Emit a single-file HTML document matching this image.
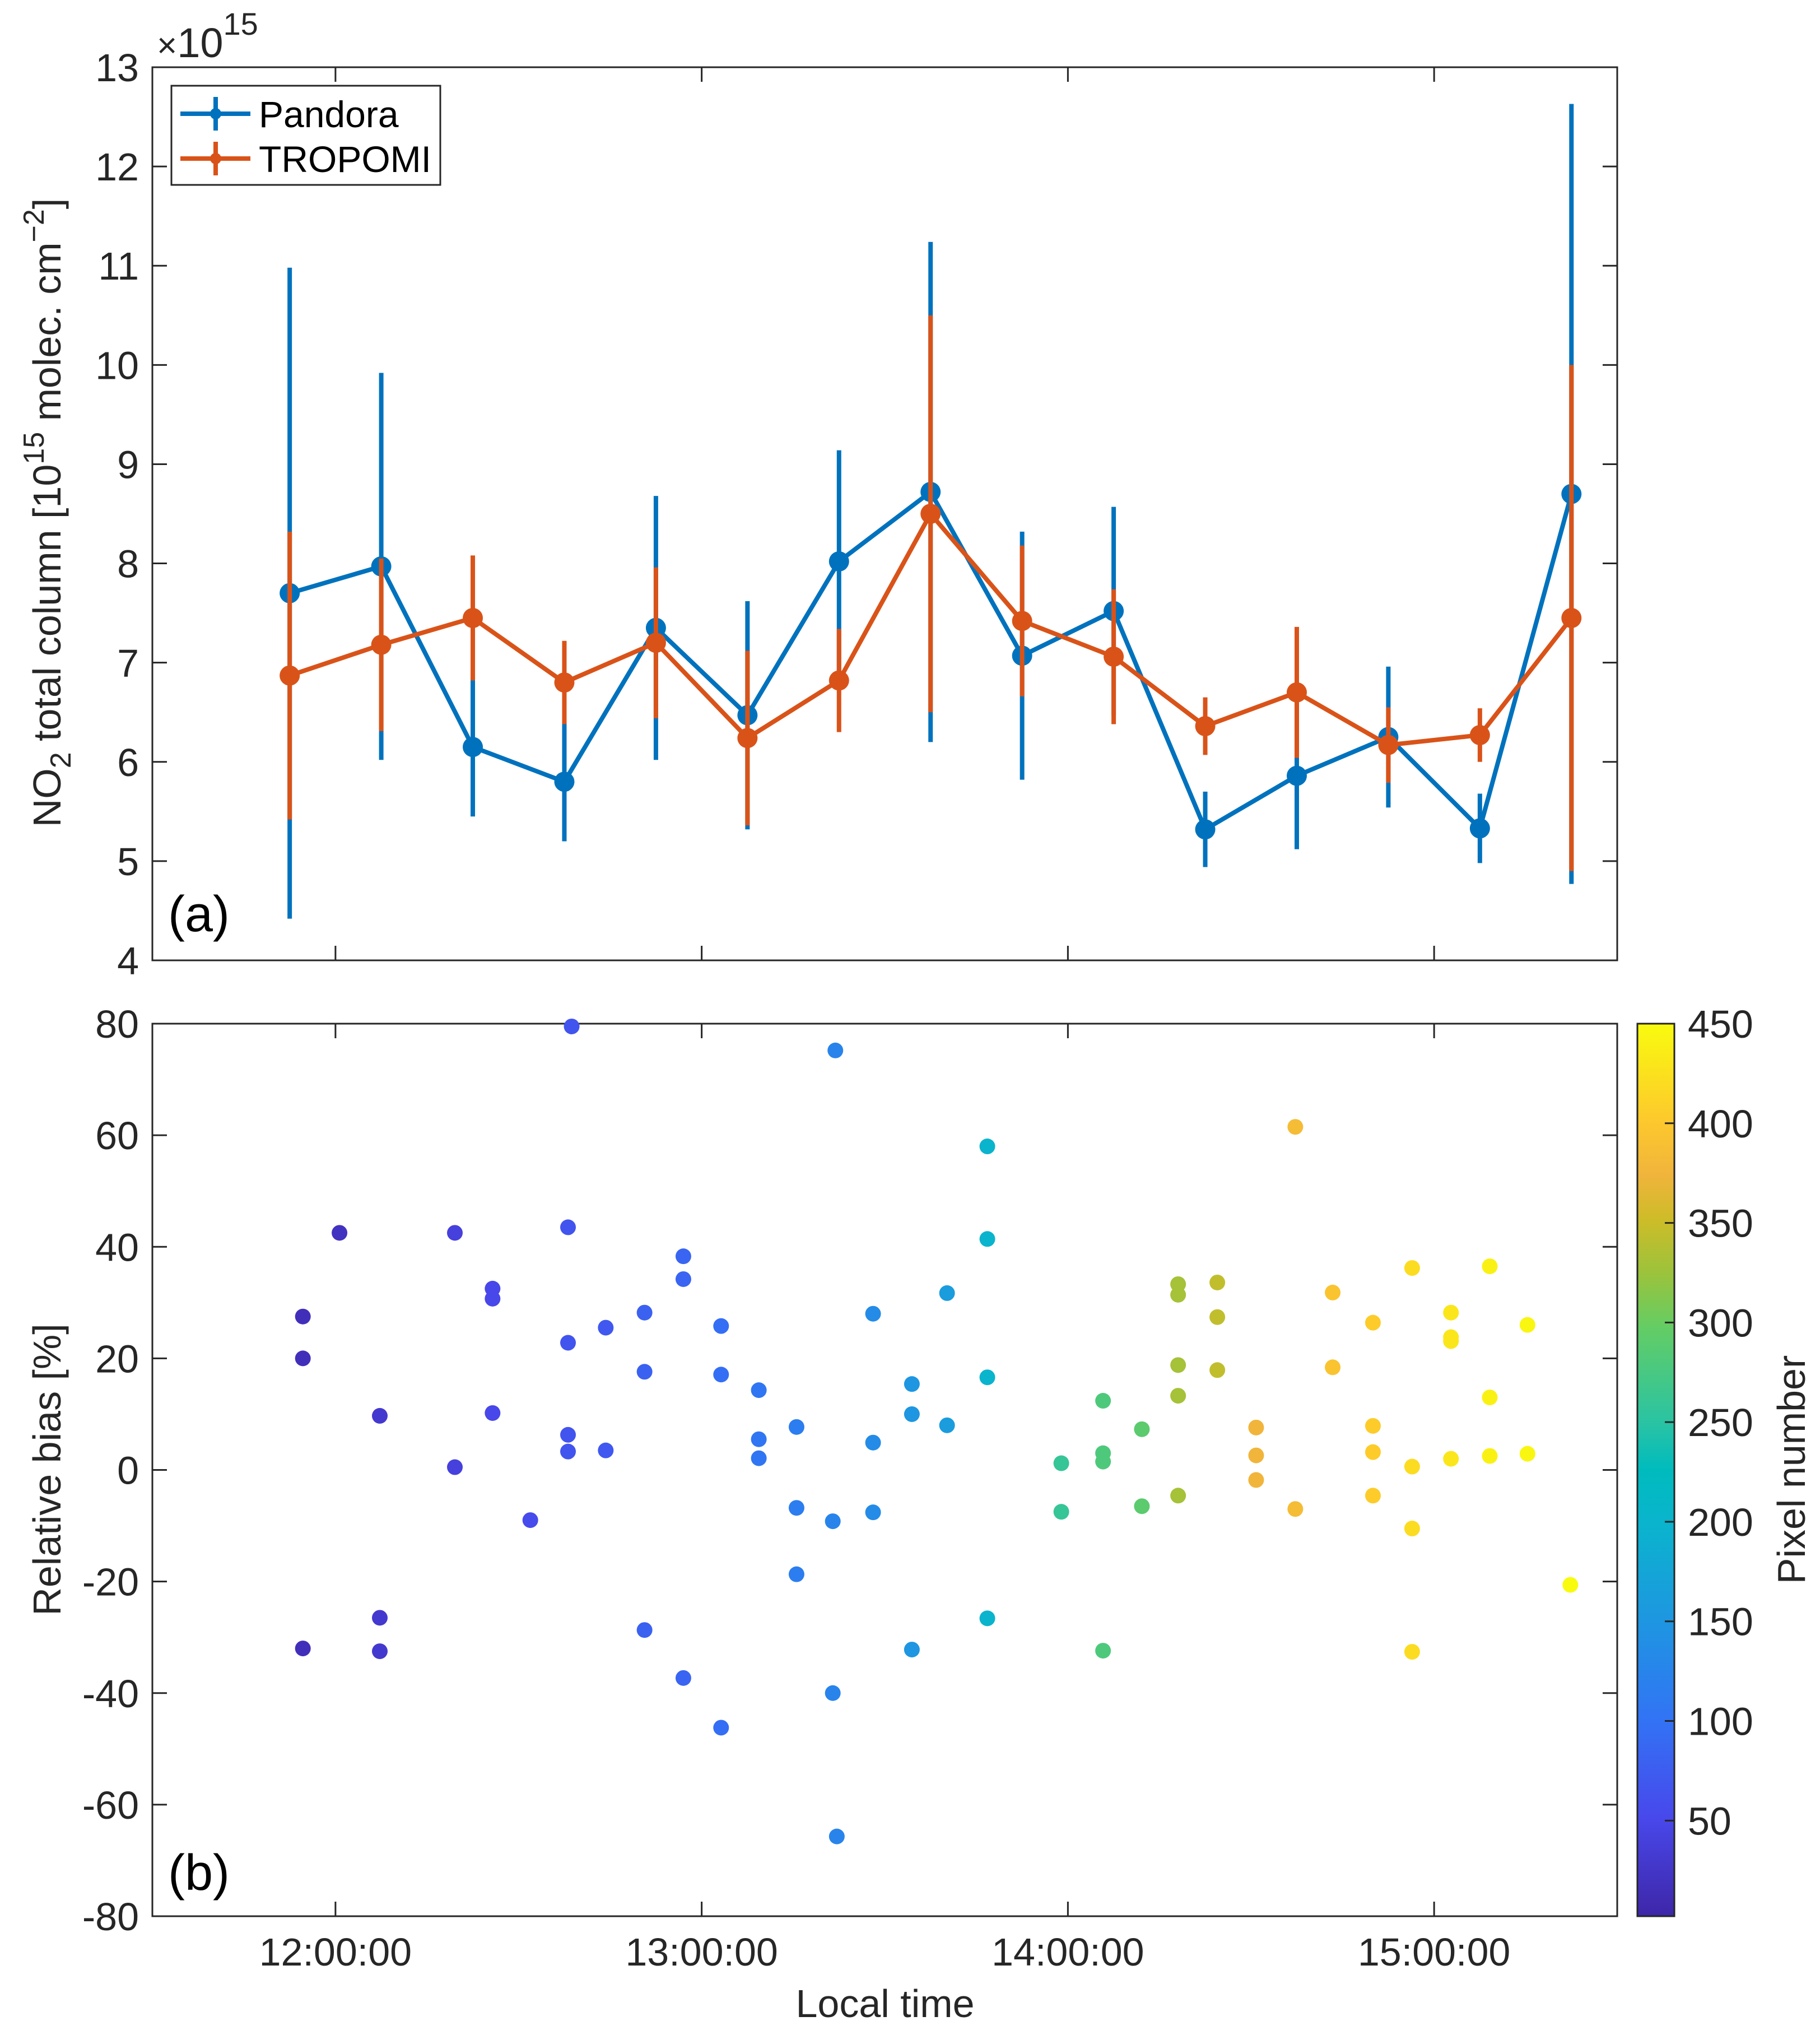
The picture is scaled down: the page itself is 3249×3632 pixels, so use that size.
<!DOCTYPE html>
<html>
<head>
<meta charset="utf-8">
<style>
html,body{margin:0;padding:0;background:#fff;}
svg{display:block;font-family:"Liberation Sans",Arial,sans-serif;}
</style>
</head>
<body>
<svg id="fig" width="3249" height="3632" viewBox="0 0 3249 3632" xmlns="http://www.w3.org/2000/svg">
<defs>
<linearGradient id="parula" x1="0" y1="1" x2="0" y2="0">
<stop offset="0" stop-color="rgb(62,38,168)"/>
<stop offset="0.11" stop-color="rgb(72,72,235)"/>
<stop offset="0.22" stop-color="rgb(50,115,245)"/>
<stop offset="0.33" stop-color="rgb(30,150,225)"/>
<stop offset="0.44" stop-color="rgb(10,180,205)"/>
<stop offset="0.5" stop-color="rgb(0,187,190)"/>
<stop offset="0.55" stop-color="rgb(40,195,165)"/>
<stop offset="0.66" stop-color="rgb(100,205,100)"/>
<stop offset="0.72" stop-color="rgb(155,195,60)"/>
<stop offset="0.78" stop-color="rgb(205,188,40)"/>
<stop offset="0.83" stop-color="rgb(240,180,60)"/>
<stop offset="0.89" stop-color="rgb(253,200,45)"/>
<stop offset="1" stop-color="rgb(249,251,14)"/>
</linearGradient>
</defs>
<g id="panelA"></g>
<g id="panelB"></g>
</svg>
<script>
// ---- Panel (a) data ----
const timesA = [11.875,12.125,12.375,12.625,12.875,13.125,13.375,13.625,13.875,14.125,14.375,14.625,14.875,15.125,15.375];
const pandora = [7.70,7.97,6.15,5.80,7.35,6.47,8.02,8.72,7.07,7.52,5.32,5.86,6.25,5.33,8.70];
const pandoraErr = [3.28,1.95,0.70,0.60,1.33,1.15,1.12,2.52,1.25,1.05,0.38,0.74,0.71,0.35,3.93];
const tropomi = [6.87,7.18,7.45,6.80,7.20,6.24,6.82,8.50,7.42,7.06,6.36,6.70,6.17,6.27,7.45];
const tropomiErr = [1.45,0.87,0.63,0.42,0.76,0.88,0.52,2.00,0.76,0.68,0.29,0.66,0.38,0.27,2.55];
const yTicksA = [4,5,6,7,8,9,10,11,12,13];
const xTicks = [12,13,14,15];
const xTickLabels = ["12:00:00","13:00:00","14:00:00","15:00:00"];
// ---- Panel (b) data ----
const timesB = [11.911,11.911,11.911,12.011,12.121,12.121,12.121,12.326,12.326,12.429,12.429,12.429,12.532,12.635,12.635,12.635,12.635,12.645,12.738,12.738,12.844,12.844,12.844,12.950,12.950,12.950,13.053,13.053,13.053,13.156,13.156,13.156,13.259,13.259,13.259,13.358,13.358,13.365,13.369,13.468,13.468,13.468,13.574,13.574,13.574,13.670,13.670,13.780,13.780,13.780,13.780,13.982,13.982,14.096,14.096,14.096,14.096,14.202,14.202,14.301,14.301,14.301,14.301,14.301,14.408,14.408,14.408,14.514,14.514,14.514,14.621,14.621,14.723,14.723,14.833,14.833,14.833,14.833,14.940,14.940,14.940,14.940,15.046,15.046,15.046,15.046,15.152,15.152,15.152,15.255,15.255,15.372];
const bias = [27.5,20,-32,42.5,9.7,-26.5,-32.5,42.5,0.5,32.5,30.7,10.2,-9,43.5,22.8,6.3,3.3,79.5,25.5,3.5,28.2,17.6,-28.7,38.3,34.2,-37.3,25.8,17.1,-46.2,14.3,5.5,2.1,7.7,-6.8,-18.7,-9.2,-40,75.2,-65.7,28,4.9,-7.6,15.4,10,-32.2,31.7,8,58,41.4,16.6,-26.6,-7.5,1.2,12.4,3,1.5,-32.4,7.3,-6.5,33.3,31.4,18.8,13.3,-4.6,33.6,27.4,17.9,7.6,2.6,-1.8,61.5,-7,31.8,18.4,26.4,7.9,3.2,-4.6,36.2,0.6,-10.5,-32.6,28.2,23.8,23.1,2,36.5,13,2.5,26,2.9,-20.6];
const pixelNum = [15,15,15,20,30,30,30,40,40,50,50,50,55,65,65,65,65,65,70,70,80,80,80,85,85,85,95,95,95,105,105,105,115,115,115,125,125,125,125,135,135,135,150,150,150,160,160,200,200,200,200,260,260,280,280,280,280,290,290,330,330,330,330,330,345,345,345,375,375,375,385,385,395,395,405,405,405,405,420,420,420,420,430,430,430,430,440,440,440,445,445,455];
const yTicksB = [-80,-60,-40,-20,0,20,40,60,80];
const cbTicks = [50,100,150,200,250,300,350,400,450];

const NS = "http://www.w3.org/2000/svg";
function mk(tag, attrs, parent){const e=document.createElementNS(NS,tag);for(const k in attrs)e.setAttribute(k,attrs[k]);parent.appendChild(e);return e;}
const AX = "#262626";
const L=272, R=2887;
const xScale = t => L + (t-11.5)/4*(R-L);
const aT=120, aB=1714;
const yA = v => aB - (v-4)/9*(aB-aT);
const bT=1827, bB=3420;
const yB = v => bB - (v+80)/160*(bB-bT);
const cL=2923, cR=2989, cMin=2, cMax=450;
const yC = v => bB - (v-cMin)/(cMax-cMin)*(bB-bT);

const stops=[[0,62,38,168],[0.11,72,72,235],[0.22,50,115,245],[0.33,30,150,225],[0.44,10,180,205],[0.5,0,187,190],[0.55,40,195,165],[0.66,100,205,100],[0.72,155,195,60],[0.78,205,188,40],[0.83,240,180,60],[0.89,253,200,45],[1,249,251,14]];
function cmap(v){let f=(v-cMin)/(cMax-cMin);f=Math.max(0,Math.min(1,f));for(let i=1;i<stops.length;i++){if(f<=stops[i][0]){const a=stops[i-1],b=stops[i];const u=(f-a[0])/(b[0]-a[0]);return `rgb(${Math.round(a[1]+u*(b[1]-a[1]))},${Math.round(a[2]+u*(b[2]-a[2]))},${Math.round(a[3]+u*(b[3]-a[3]))})`;}}return "rgb(249,251,14)";}

const gTop=document.getElementById('panelA');
const gBot=document.getElementById('panelB');

// ===== Panel A =====
const boxA = mk('rect',{x:L,y:aT,width:R-L,height:aB-aT,fill:'none',stroke:AX,'stroke-width':3},gTop);


yTicksA.forEach(v=>{
  const y=yA(v);
  const t1=mk('line',{x1:L,x2:L+26,y1:y,y2:y,stroke:AX,'stroke-width':3},gTop);
  
  
  const t2=mk('line',{x1:R,x2:R-26,y1:y,y2:y,stroke:AX,'stroke-width':3},gTop);
  
  
  const tx=mk('text',{x:248,y:y+25,'text-anchor':'end','font-size':70,fill:AX},gTop);
  tx.textContent=v;
  
  
});
xTicks.forEach(v=>{
  const x=xScale(v);
  const t1=mk('line',{x1:x,x2:x,y1:aB,y2:aB-26,stroke:AX,'stroke-width':3},gTop);
  
  
  const t2=mk('line',{x1:x,x2:x,y1:aT,y2:aT+26,stroke:AX,'stroke-width':3},gTop);
  
  
});
function series(vals, errs, color, name){
  const g=mk('g',{},gTop);
  
  
  const pts=timesA.map((t,i)=>xScale(t)+','+yA(vals[i])).join(' ');
  const pl=mk('polyline',{points:pts,fill:'none',stroke:color,'stroke-width':8,'stroke-linejoin':'round'},g);
  
  
  timesA.forEach((t,i)=>{
    const x=xScale(t);
    const eb=mk('line',{x1:x,x2:x,y1:yA(vals[i]-errs[i]),y2:yA(vals[i]+errs[i]),stroke:color,'stroke-width':8},g);
    
    
  });
  timesA.forEach((t,i)=>{
    const c=mk('circle',{cx:xScale(t),cy:yA(vals[i]),r:18,fill:color},g);
    
    
  });
}
series(pandora,pandoraErr,'#0072BD','pandora');
series(tropomi,tropomiErr,'#D95319','tropomi');

const lg=mk('g',{},gTop);


const lr=mk('rect',{x:306,y:153,width:480,height:177,fill:'#fff',stroke:AX,'stroke-width':3},lg);


[['Pandora','#0072BD',203],['TROPOMI','#D95319',283]].forEach(([lab,col,y])=>{
  const e=mk('g',{},lg);
  
  
  mk('line',{x1:322,x2:447,y1:y,y2:y,stroke:col,'stroke-width':8},e);
  mk('line',{x1:385,x2:385,y1:y-30,y2:y+30,stroke:col,'stroke-width':8},e);
  mk('circle',{cx:385,cy:y,r:10,fill:col},e);
  const t=mk('text',{x:462,y:y+24,'font-size':66,fill:'#000'},e);
  t.textContent=lab;
});

const mult=mk('text',{x:280,y:102,'font-size':74,fill:AX},gTop);


mult.innerHTML='<tspan font-size="62">×</tspan>10<tspan dy="-40" font-size="56">15</tspan>';

const la=mk('text',{x:300,y:1662,'font-size':90,fill:'#000'},gTop);
la.textContent='(a)';



const yla=mk('text',{x:0,y:0,'font-size':70,fill:AX,'text-anchor':'middle',transform:'translate(108,915) rotate(-90)'},gTop);


yla.innerHTML='NO<tspan dy="18" font-size="52">2</tspan><tspan dy="-18"> total column [10</tspan><tspan dy="-30" font-size="52">15</tspan><tspan dy="30"> molec. cm</tspan><tspan dy="-30" font-size="52">−2</tspan><tspan dy="30">]</tspan>';

// ===== Panel B =====
const boxB=mk('rect',{x:L,y:bT,width:R-L,height:bB-bT,fill:'none',stroke:AX,'stroke-width':3},gBot);


yTicksB.forEach(v=>{
  const y=yB(v);
  const t1=mk('line',{x1:L,x2:L+26,y1:y,y2:y,stroke:AX,'stroke-width':3},gBot);
  
  
  const t2=mk('line',{x1:R,x2:R-26,y1:y,y2:y,stroke:AX,'stroke-width':3},gBot);
  
  
  const tx=mk('text',{x:248,y:y+25,'text-anchor':'end','font-size':70,fill:AX},gBot);
  tx.textContent=v;
  
  
});
xTicks.forEach((v,i)=>{
  const x=xScale(v);
  const t1=mk('line',{x1:x,x2:x,y1:bB,y2:bB-26,stroke:AX,'stroke-width':3},gBot);
  
  
  const t2=mk('line',{x1:x,x2:x,y1:bT,y2:bT+26,stroke:AX,'stroke-width':3},gBot);
  
  
  const tx=mk('text',{x:x,y:3508,'text-anchor':'middle','font-size':70,fill:AX},gBot);
  tx.textContent=xTickLabels[i];
  
  
});
timesB.forEach((t,i)=>{
  const c=mk('circle',{cx:xScale(t),cy:yB(bias[i]),r:14,fill:cmap(pixelNum[i])},gBot);
  
  
});
const lb=mk('text',{x:300,y:3373,'font-size':90,fill:'#000'},gBot);
lb.textContent='(b)';


const ylb=mk('text',{x:0,y:0,'font-size':70,fill:AX,'text-anchor':'middle',transform:'translate(108,2623) rotate(-90)'},gBot);
ylb.textContent='Relative bias [%]';


const xl=mk('text',{x:1580,y:3600,'font-size':70,fill:AX,'text-anchor':'middle'},gBot);
xl.textContent='Local time';



const cb=mk('rect',{x:cL,y:bT,width:cR-cL,height:bB-bT,fill:'url(#parula)',stroke:AX,'stroke-width':3},gBot);


cbTicks.forEach(v=>{
  const y=yC(v);
  const t=mk('line',{x1:cR,x2:cR-17,y1:y,y2:y,stroke:AX,'stroke-width':3},gBot);
  
  
  const tx=mk('text',{x:3013,y:y+25,'font-size':70,fill:AX},gBot);
  tx.textContent=v;
  
  
});
const cbl=mk('text',{x:0,y:0,'font-size':70,fill:AX,'text-anchor':'middle',transform:'translate(3222,2623) rotate(-90)'},gBot);
cbl.textContent='Pixel number';


</script>
</body>
</html>
